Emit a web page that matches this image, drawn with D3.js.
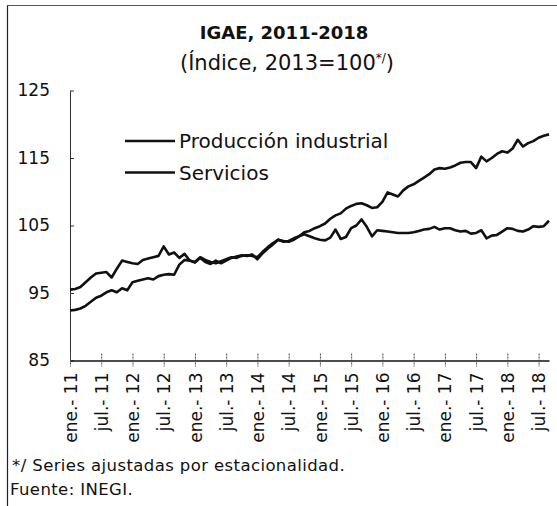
<!DOCTYPE html>
<html>
<head>
<meta charset="utf-8">
<script src="https://cdn.jsdelivr.net/npm/d3@7"></script>
<style>
  body { margin: 0; background: #fff; }
  svg { display: block; }
  text { font-family: "DejaVu Sans", sans-serif; fill: #111; }
</style>
</head>
<body>
<svg id="chart" width="557" height="506"></svg>
<script>
// IGAE monthly index (2013 = 100), seasonally adjusted, ene. 2011 – sep. 2018
const industrial = [
  95.5, 95.6, 95.9, 96.6, 97.3, 97.9, 98.0, 98.1, 97.3, 98.6, 99.8, 99.6,
  99.4, 99.3, 99.9, 100.1, 100.3, 100.5, 101.9, 100.7, 101.0, 100.2, 100.8, 99.8,
  99.5, 100.2, 99.6, 99.3, 99.8, 99.4, 99.8, 100.2, 100.4, 100.6, 100.5, 100.7,
  100.0, 100.9, 101.6, 102.2, 102.9, 102.7, 102.6, 102.9, 103.4, 103.7, 103.4, 103.1,
  102.9, 102.8, 103.2, 104.4, 103.0, 103.3, 104.6, 105.0, 105.9, 104.8, 103.4, 104.3,
  104.2, 104.1, 104.0, 103.9, 103.9, 103.9, 104.0, 104.2, 104.4, 104.5, 104.8, 104.4,
  104.6, 104.6, 104.3, 104.1, 104.2, 103.8, 103.9, 104.3, 103.1, 103.5, 103.6, 104.1,
  104.6, 104.5, 104.2, 104.1, 104.4, 104.9, 104.8, 104.9, 105.7
];
const servicios = [
  92.4, 92.5, 92.7, 93.1, 93.7, 94.3, 94.6, 95.1, 95.4, 95.1, 95.7, 95.4,
  96.6, 96.8, 97.0, 97.2, 97.0, 97.5, 97.7, 97.8, 97.7, 99.2, 99.9, 99.8,
  99.6, 100.3, 99.9, 99.6, 99.4, 99.7, 100.0, 100.3, 100.2, 100.5, 100.6, 100.5,
  100.3, 101.1, 101.8, 102.4, 102.9, 102.6, 102.7, 103.1, 103.4, 104.0, 104.2, 104.6,
  104.9, 105.3, 106.0, 106.5, 106.8, 107.5, 107.9, 108.2, 108.3, 108.0, 107.6, 107.7,
  108.5, 109.9, 109.6, 109.3, 110.2, 110.8, 111.1, 111.6, 112.1, 112.6, 113.3, 113.5,
  113.4, 113.6, 113.9, 114.3, 114.4, 114.4, 113.5, 115.2, 114.5, 115.0, 115.6, 116.0,
  115.8, 116.4, 117.7, 116.7, 117.2, 117.5, 118.0, 118.3, 118.5
];
const seriesNames = ["Producción industrial", "Servicios"];
const xTickMonths = [0, 6, 12, 18, 24, 30, 36, 42, 48, 54, 60, 66, 72, 78, 84, 90];
const xTickLabels = ["ene.- 11", "jul.- 11", "ene.- 12", "jul.- 12", "ene.- 13", "jul.- 13",
  "ene.- 14", "jul.- 14", "ene.- 15", "jul.- 15", "ene.- 16", "jul.- 16",
  "ene.- 17", "jul.- 17", "ene.- 18", "jul.- 18"];
const yTicks = [85, 95, 105, 115, 125];

const svg = d3.select("#chart");

// frame lines on the left and top
svg.append("line").attr("x1", 7.5).attr("x2", 7.5).attr("y1", 5).attr("y2", 506)
  .attr("stroke", "#222").attr("stroke-width", 1.2);
svg.append("line").attr("x1", 7).attr("x2", 557).attr("y1", 5.5).attr("y2", 5.5)
  .attr("stroke", "#555").attr("stroke-width", 1);

const x = d3.scaleLinear().domain([0, industrial.length - 1]).range([70, 549]);
const y = d3.scaleLinear().domain([85, 125]).range([360.5, 90.5]);

// titles
svg.append("text").attr("x", 284).attr("y", 39).attr("text-anchor", "middle")
  .style("font-weight", "bold").style("font-size", "18px").text("IGAE, 2011-2018");
const sub = svg.append("text").attr("x", 287).attr("y", 70).attr("text-anchor", "middle")
  .style("font-size", "21px");
sub.append("tspan").text("(Índice, 2013=100");
sub.append("tspan").attr("dy", -8).style("font-size", "12px").text("*/");
sub.append("tspan").attr("dy", 8).text(")");

// y axis
const yAxis = svg.append("g").attr("transform", "translate(70,0)")
  .call(d3.axisLeft(y).tickValues(yTicks).tickSize(-4).tickSizeOuter(0).tickPadding(20));
yAxis.select(".domain").attr("stroke", "#333");
yAxis.selectAll(".tick line").attr("stroke", "#333");
yAxis.selectAll("text").style("font-size", "17px").attr("fill", "#111");

// x axis
const xAxis = svg.append("g").attr("transform", `translate(0,${y(85)})`)
  .call(d3.axisBottom(x).tickValues(xTickMonths)
    .tickFormat((d, i) => xTickLabels[i]).tickSize(6).tickSizeOuter(0));
xAxis.select(".domain").attr("stroke", "#111").attr("stroke-width", 1.3);
xAxis.selectAll(".tick line").attr("y1", -7).attr("y2", 6)
  .attr("stroke", "#444").attr("stroke-dasharray", "2,1");
xAxis.selectAll("text")
  .attr("transform", "rotate(-90)")
  .attr("text-anchor", "end")
  .attr("x", -12).attr("y", 0).attr("dy", "0.36em")
  .style("font-size", "17px").attr("fill", "#111");

// series lines
const line = d3.line().x((d, i) => x(i)).y(d => y(d));
[industrial, servicios].forEach(s => {
  svg.append("path").datum(s).attr("d", line)
    .attr("fill", "none").attr("stroke", "#111").attr("stroke-width", 2.6)
    .attr("stroke-linejoin", "round");
});

// legend
const legendY = [141, 172.5];
seriesNames.forEach((name, i) => {
  svg.append("line").attr("x1", 125).attr("x2", 175)
    .attr("y1", legendY[i]).attr("y2", legendY[i])
    .attr("stroke", "#111").attr("stroke-width", 2.6);
  svg.append("text").attr("x", 179).attr("y", legendY[i] + 7)
    .style("font-size", "20px").text(name);
});

// notes
svg.append("text").attr("x", 12).attr("y", 471).style("font-size", "16.5px")
  .style("letter-spacing", "0.4px").text("*/ Series ajustadas por estacionalidad.");
svg.append("text").attr("x", 10).attr("y", 495).style("font-size", "16.5px")
  .style("letter-spacing", "0.4px").text("Fuente: INEGI.");
</script>
</body>
</html>
